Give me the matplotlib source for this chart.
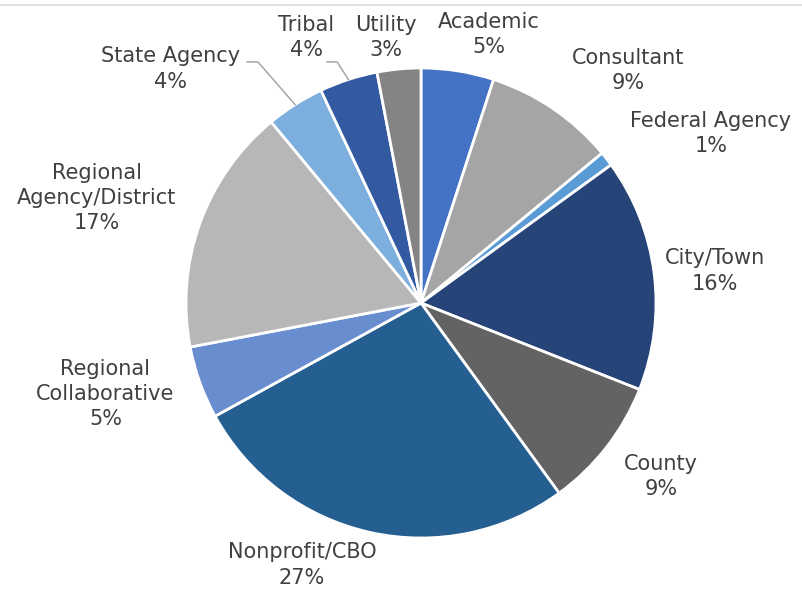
import numpy as np
import matplotlib.pyplot as plt
from matplotlib.lines import Line2D

# Data
categories = ['Academic', 'Consultant', 'Federal Agency', 'City/Town', 'County',
              'Nonprofit/CBO', 'Regional\nCollaborative', 'Regional\nAgency/District',
              'State Agency', 'Tribal', 'Utility']
shares = [5, 9, 1, 16, 9, 27, 5, 17, 4, 4, 3]
colors = ['#4472C4', '#A5A5A5', '#5B9BD5', '#264478', '#636363', '#255E91',
          '#698ED0', '#B7B7B7', '#7CAFDD', '#335AA1', '#848484']

# label placement (data units, pie radius = 1)
label_xy = [(0.289, 1.142), (0.883, 0.991), (1.234, 0.723), (1.251, 0.136),
            (1.021, -0.740), (-0.506, -1.115), (-1.343, -0.387), (-1.379, 0.447),
            (-1.064, 0.996), (-0.489, 1.128), (-0.149, 1.128)]
# leader lines: index -> start point near label
leaders = {8: [(-0.740, 1.026), (-0.694, 1.026)],
           9: [(-0.400, 1.026), (-0.357, 1.026)]}

text_color = '#404040'

fig = plt.figure(figsize=(8.03, 5.92), dpi=100)
ax = fig.add_axes([0, 0, 1, 1])

wedges, _ = ax.pie(shares, colors=colors, startangle=90, counterclock=False,
                   radius=1.0, wedgeprops=dict(edgecolor='white', linewidth=2.0))

for i, (name, val) in enumerate(zip(categories, shares)):
    x, y = label_xy[i]
    ax.text(x, y, '%s\n%d%%' % (name, val), ha='center', va='center',
            fontsize=15, color=text_color, linespacing=1.32, family='DejaVu Sans')

for i, pts in leaders.items():
    w = wedges[i]
    mid = np.deg2rad((w.theta1 + w.theta2) / 2)
    xs = [p[0] for p in pts] + [np.cos(mid)]
    ys = [p[1] for p in pts] + [np.sin(mid)]
    ax.plot(xs, ys, color='#A6A6A6', linewidth=1.1)

# map axes so the pie sits where it does in the reference
ax.set_xlim(-421 / 235, (803 - 421) / 235)
ax.set_ylim(-(592 - 303) / 235, 303 / 235)
ax.set_aspect('auto')
ax.axis('off')

# thin border at the top of the chart area
fig.add_artist(Line2D([0, 1], [1 - 5 / 592, 1 - 5 / 592], color='#D9D9D9', linewidth=1.2))

plt.savefig('out.png', dpi=100)
plt.close()
